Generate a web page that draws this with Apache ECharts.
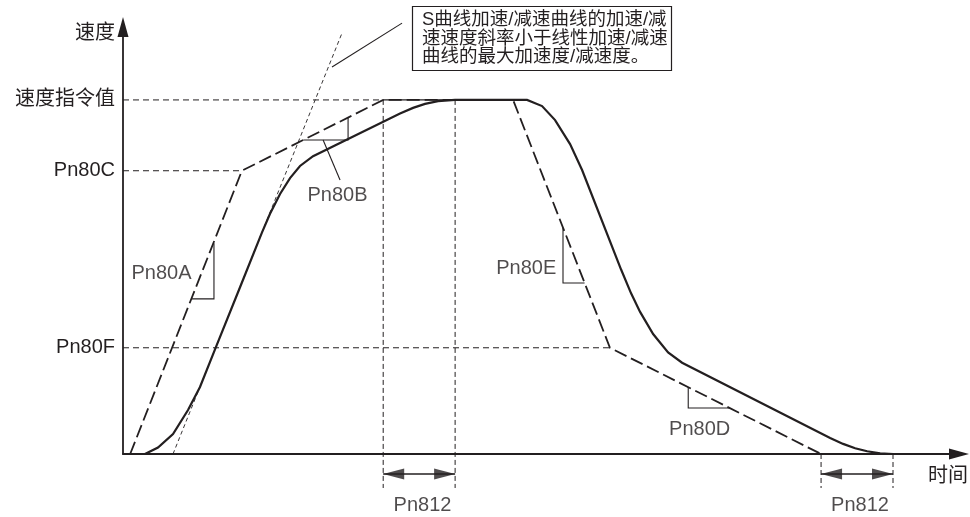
<!DOCTYPE html>
<html><head><meta charset="utf-8">
<script src="https://cdn.jsdelivr.net/npm/echarts@6/dist/echarts.min.js"></script>
<style>html,body{margin:0;padding:0;background:#fff}#c{width:970px;height:517px}</style>
</head><body><div id="c"></div>
<script>
const INK = '#231f20';
const FONT = "'Liberation Sans', 'Noto Sans CJK SC', sans-serif";

// speed levels on the y axis (speed command = 100)
const levelValues = [100, 80, 30];
const levelLabels = ['速度指令值', 'Pn80C', 'Pn80F'];
// x end of each dashed level guide
const levelGuideEnds = [61.5, 28.1, 115.1];

// linear accel/decel command profile [time, speed]
const commandProfile = [[1.7,0],[28.1,80],[61.5,100],[92.2,100],[115.1,30],[165,0]];
const commandPlateau = [[61.5,100],[92.2,100]];

// S-curve profile [time, speed]
const sCurve = [
  [5.2,0],[8.27,1.84],[11.82,5.65],[15.37,12.42],[18.2,18.92],[21.75,29.54],[27.66,47.1],
  [32.86,62.58],[34.75,67.86],[37.12,73.45],[39.48,77.94],[41.84,81.35],[44.92,84.12],
  [65.48,96.15],[68.56,97.76],[71.39,98.89],[74.47,99.65],[78.49,100],
  [95.51,100],[99.05,98.27],[102.13,94.32],[105.67,87.54],[108.51,80.2],[117.73,52.1],
  [120.09,45.38],[122.22,40.13],[125.3,33.89],[128.84,28.69],[132.15,25.78],
  [167.14,4.52],[170.21,2.85],[173.05,1.64],[175.89,0.78],[178.96,0.2],[182.03,0]
];

// max-slope tangent of the S-curve
const tangentLine = [[11.82,0],[51.77,118.9]];

// vertical time guides [time, topSpeed, bottomSpeed]
const timeGuides = [[61.5,100,-9.6],[78.5,100,-9.6],[165,0,-9.6],[182,0,-9.6]];

// Pn812 spans (double arrows)
const pn812Spans = [[61.5,78.5],[165,182]];
const pn812ArrowLevel = -5.65;

// slope brackets
const slopeA = [[16.2,43.8],[21.5,43.8],[21.5,59.5]];
const slopeB = [[42.6,88.7],[53.2,88.7],[53.2,95]];
const slopeE = [[104,63.8],[104,48.3],[109.1,48.3]];
const slopeD = [[133.6,18.9],[133.6,13],[143.4,13]];
const leaderB = [[47.3,88.7],[51.3,77.4]];
const leaderNote = [[65.96,121.7],[49.4,109.3]];

// text labels [text, time, speed]
const paramLabels = [
  ['Pn80A',9.1,51.1],['Pn80B',50.7,73.1],['Pn80E',95.3,52.5],['Pn80D',136.3,6.8],
  ['Pn812',70.8,-14.4],['Pn812',174.2,-14.4]
];

const noteText = 'S曲线加速/减速曲线的加速/减\n速速度斜率小于线性加速/减速\n曲线的最大加速度/减速度。';

function lineSeries(data, width, dash, z) {
  return {type:'line', data, symbol:'none', showSymbol:false, clip:false, silent:true,
    animation:false, z: z || 2,
    lineStyle:{color:INK, width, type: dash || 'solid', cap:'butt', join:'miter'}};
}

const series = [];
levelValues.forEach((v, i) => series.push(lineSeries([[0,v],[levelGuideEnds[i],v]], 1, [6,4])));
timeGuides.forEach(([t,a,b]) => series.push(lineSeries([[t,a],[t,b]], 1, [5,3])));
series.push(lineSeries(tangentLine, 0.9, [4,3]));
series.push(lineSeries(commandPlateau, 1.2));
series.push(lineSeries(commandProfile, 1.8, [13,5], 3));
series.push(lineSeries(sCurve, 2.2, 'solid', 4));
[slopeA, slopeB, slopeE, slopeD, leaderB, leaderNote].forEach(d => series.push(lineSeries(d, 1.1)));
// Pn812 double arrows: shaft + arrow heads
pn812Spans.forEach(([a,b]) => series.push(lineSeries([[a,pn812ArrowLevel],[b,pn812ArrowLevel]], 1.5)));
const heads = [];
pn812Spans.forEach(([a,b]) => {
  heads.push({value:[a,pn812ArrowLevel], symbolRotate:90, symbolOffset:[10.5,0]});
  heads.push({value:[b,pn812ArrowLevel], symbolRotate:-90, symbolOffset:[-10.5,0]});
});
series.push({type:'scatter', data:heads, symbol:'triangle', symbolSize:[11,21], clip:false,
  silent:true, animation:false, itemStyle:{color:INK}, z:5});
series.push({
  type:'scatter', symbolSize:0, clip:false, silent:true, animation:false,
  data: paramLabels.map(([n,t,v]) => ({name:n, value:[t,v]})),
  label:{show:true, position:'inside', formatter:'{b}', fontSize:20, color:INK, fontFamily:FONT}
});

const chart = echarts.init(document.getElementById('c'), null, {renderer:'canvas'});
chart.setOption({
  animation:false,
  backgroundColor:'#fff',
  title:{text:noteText, left:412, top:6, padding:[5,4,4,10], borderColor:INK, borderWidth:1.2,
    textStyle:{fontFamily:FONT, fontSize:18.5, lineHeight:18.5, fontWeight:'normal', color:INK}},
  grid:{left:123, right:11, top:27, bottom:63, outerBoundsMode:'none'},
  xAxis:{type:'value', min:0, max:197.6,
    axisLine:{show:true, onZero:false, symbol:['none','triangle'], symbolSize:[11,20], lineStyle:{color:INK, width:1.8}},
    axisTick:{show:false}, axisLabel:{show:false}, splitLine:{show:false},
    name:'时间', nameLocation:'end', nameGap:-31,
    nameTextStyle:{fontFamily:FONT, fontSize:20, color:INK, align:'left', verticalAlign:'top', padding:[12,0,0,0]}},
  yAxis:{type:'value', min:0, max:120.6,
    axisLine:{show:true, onZero:false, symbol:['none','triangle'], symbolSize:[11,20], lineStyle:{color:INK, width:1.8}},
    axisTick:{show:false}, splitLine:{show:false},
    axisLabel:{customValues:levelValues, formatter:v => levelLabels[levelValues.indexOf(v)] || '',
      fontSize:20, color:INK, fontFamily:FONT, margin:8},
    name:'速度', nameLocation:'end', nameGap:-6,
    nameTextStyle:{fontFamily:FONT, fontSize:20, color:INK, align:'right', verticalAlign:'middle', padding:[0,8,0,0]}},
  series
});
</script></body></html>
